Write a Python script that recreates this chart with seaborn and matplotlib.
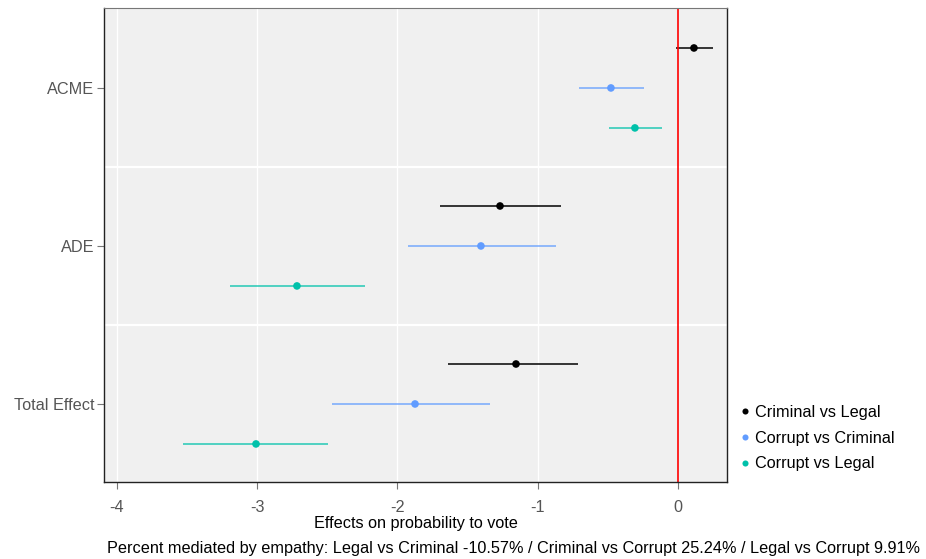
import matplotlib
matplotlib.use("Agg")
import matplotlib.pyplot as plt
import seaborn as sns
import pandas as pd

# Mediation estimates (point estimate and 95% interval) per contrast
effects = ["ACME", "ADE", "Total Effect"]
contrasts = ["Criminal vs Legal", "Corrupt vs Criminal", "Corrupt vs Legal"]
estimate = {
    "Criminal vs Legal":   [0.114, -1.269, -1.155],
    "Corrupt vs Criminal": [-0.478, -1.405, -1.875],
    "Corrupt vs Legal":    [-0.307, -2.717, -3.009],
}
lower = {
    "Criminal vs Legal":   [-0.014, -1.697, -1.640],
    "Corrupt vs Criminal": [-0.706, -1.925, -2.467],
    "Corrupt vs Legal":    [-0.490, -3.194, -3.530],
}
upper = {
    "Criminal vs Legal":   [0.250, -0.834, -0.713],
    "Corrupt vs Criminal": [-0.242, -0.870, -1.340],
    "Corrupt vs Legal":    [-0.114, -2.232, -2.496],
}
xticks = [-4, -3, -2, -1, 0]
xlabel = "Effects on probability to vote"
caption = ("Percent mediated by empathy: Legal vs Criminal -10.57% / "
           "Criminal vs Corrupt 25.24% / Legal vs Corrupt 9.91%")

palette = {"Criminal vs Legal": "#000000",
           "Corrupt vs Criminal": "#619CFF",
           "Corrupt vs Legal": "#00C1AA"}
dodge = {"Criminal vs Legal": -0.253, "Corrupt vs Criminal": 0.0,
         "Corrupt vs Legal": 0.253}

rows = []
for c in contrasts:
    for i, e in enumerate(effects):
        rows.append({"effect": e, "contrast": c, "est": estimate[c][i],
                     "lo": lower[c][i], "hi": upper[c][i],
                     "ypos": i + dodge[c]})
df = pd.DataFrame(rows)

sns.set_theme(style="white")
plt.rcParams["font.family"] = ["Liberation Sans", "DejaVu Sans"]
FS = 11.7

fig = plt.figure(figsize=(9.26, 5.59), dpi=100)
ax = fig.add_axes([0.1123, 0.1377, 0.785 - 0.1123, 0.9857 - 0.1377])
ax.set_facecolor("#F0F0F0")

# grid: vertical lines at major x ticks, horizontal lines between groups
for xv in xticks[:-1]:
    ax.axvline(xv, color="white", lw=1.0, zorder=0)
for yv in [0.5, 1.5]:
    ax.axhline(yv, color="white", lw=1.6, zorder=0)

for c in contrasts:
    sub = df[df["contrast"] == c]
    ax.hlines(sub["ypos"], sub["lo"], sub["hi"], color=palette[c],
              lw=1.1, alpha=0.85 if c != "Criminal vs Legal" else 1.0, zorder=2)

sns.scatterplot(data=df, x="est", y="ypos", hue="contrast",
                hue_order=contrasts, palette=palette, s=30,
                edgecolor="none", ax=ax, zorder=3)

ax.axvline(0, color="#FF0000", lw=1.2, zorder=2)

ax.set_xlim(-4.093, 0.349)
ax.set_ylim(2.494, -0.506)
ax.set_xticks(xticks)
ax.set_xticklabels(["-4", "-3", "-2", "-1", "0"])
ax.set_yticks(range(len(effects)))
ax.set_yticklabels(effects)
ax.tick_params(axis="both", which="both", length=5, width=0.8,
               color="#777777", labelcolor="#555555", labelsize=FS,
               bottom=True, left=True, pad=2)
ax.tick_params(axis="x", pad=8)
ax.set_xlabel(xlabel, fontsize=FS, color="black", labelpad=1)
ax.set_ylabel("")

for side in ["left", "bottom", "right"]:
    ax.spines[side].set_color("#222222")
    ax.spines[side].set_linewidth(1.0)
ax.spines["top"].set_color("#777777")
ax.spines["top"].set_linewidth(0.8)

leg = ax.legend(loc="upper left", bbox_to_anchor=(0.992, 0.176),
                frameon=False, fontsize=FS, handletextpad=-0.35,
                labelspacing=0.65, borderaxespad=0, markerscale=0.8)
for t in leg.get_texts():
    t.set_color("black")

fig.text(0.993, 0.006, caption, ha="right", va="bottom", fontsize=FS,
         color="black")

fig.savefig("out.png", dpi=100)
